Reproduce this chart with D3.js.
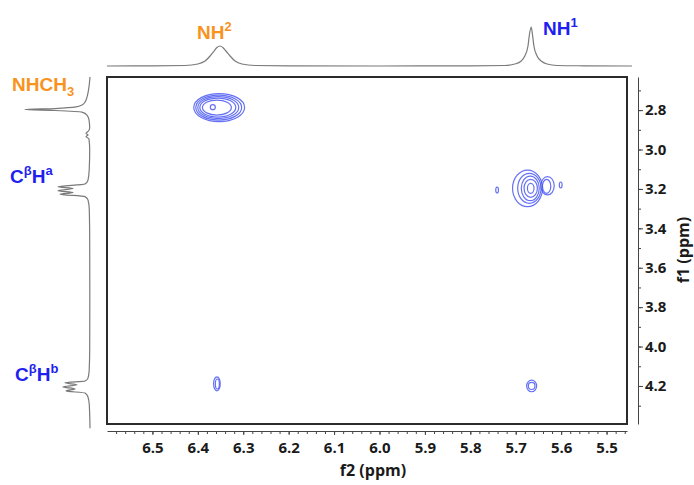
<!DOCTYPE html>
<html>
<head>
  <meta charset="utf-8">
  <script src="https://d3js.org/d3.v7.min.js"></script>
  <style>
    body { margin: 0; background: #fff; }
    .tick text { font-family: "Open Sans", sans-serif; font-weight: 700; font-size: 15px; fill: #1a1a1a; }
    .peak-label { font-family: "Liberation Sans", Arial, sans-serif; font-weight: 700; font-size: 19px; }
  </style>
</head>
<body>
<div id="chart"></div>
<script>
// f2 (horizontal) and f1 (vertical) tick labels, ppm
const f2Labels = [6.5, 6.4, 6.3, 6.2, 6.1, 6.0, 5.9, 5.8, 5.7, 5.6, 5.5];
const f1Labels = [2.8, 3.0, 3.2, 3.4, 3.6, 3.8, 4.0, 4.2];

// 1D projection on top (f2): ppm and height
const topPpm = [6.60, 6.50, 6.428, 6.400, 6.384, 6.373, 6.364, 6.358, 6.351, 6.345, 6.338, 6.329, 6.318, 6.303, 6.274, 6.20, 6.00, 5.80,
                5.724, 5.702, 5.688, 5.680, 5.673, 5.670, 5.666, 5.663, 5.660, 5.653, 5.644, 5.631, 5.609, 5.55, 5.444];
const topInt = [0, 0.2, 0.5, 2, 5, 10, 15, 18.5, 20, 18.5, 15, 10, 5, 2, 0.5, 0.2, 0, 0.2,
                0.5, 2, 5, 10, 20, 31, 39, 31, 20, 10, 5, 2, 0.5, 0.2, 0];

// 1D projection on the left (f1)
const leftPpm = [2.632, 2.698, 2.734, 2.759, 2.774, 2.784, 2.792, 2.797, 2.802, 2.810, 2.825, 2.850, 2.891,
                 2.906, 2.919, 2.926, 2.934, 2.947, 3.003, 3.104, 3.155, 3.175, 3.189, 3.198, 3.209, 3.218, 3.227,
                 3.239, 3.256, 3.307, 3.459, 3.764, 4.018, 4.119, 4.160, 4.175, 4.184, 4.194, 4.205, 4.215, 4.225,
                 4.236, 4.256, 4.297, 4.414];
const leftInt = [0, 1.5, 3, 5, 8, 14, 35, 65, 35, 8, 3, 1, 0.3,
                 1.5, 4, 2, 4, 1, 0.3, 0.8, 2, 5, 32, 17, 32, 17, 30,
                 5, 2, 0.7, 0.3, 0.2, 0.3, 0.8, 2, 5, 25, 13, 27, 15, 24,
                 5, 2, 0.7, 0];

// contour rings of the cross peaks: centre (f2, f1) and half widths, ppm
const ringF2 = [6.353, 6.354, 6.355, 6.356, 6.358, 6.367,
                5.674, 5.670, 5.668, 5.667, 5.667, 5.630, 5.632, 5.741, 5.601,
                6.358, 6.357, 5.665, 5.665];
const ringF1 = [2.787, 2.787, 2.787, 2.787, 2.787, 2.785,
                3.197, 3.197, 3.197, 3.197, 3.197, 3.184, 3.187, 3.206, 3.180,
                4.189, 4.190, 4.200, 4.200];
const ringRx = [0.0560, 0.0505, 0.0451, 0.0396, 0.0319, 0.0055,
                0.0330, 0.0257, 0.0198, 0.0147, 0.0073, 0.0147, 0.0092, 0.0030, 0.0030,
                0.0073, 0.0044, 0.0110, 0.0073];
const ringRy = [0.0711, 0.0635, 0.0558, 0.0482, 0.0381, 0.0127,
                0.0929, 0.0761, 0.0624, 0.0457, 0.0254, 0.0467, 0.0355, 0.0152, 0.0152,
                0.0355, 0.0254, 0.0294, 0.0178];

const orange = "#f7931e", blue = "#1f1ff0";

const width = 694, height = 485;
const svg = d3.select("#chart").append("svg")
  .attr("width", width)
  .attr("height", height);

// scales (f2 runs right to left, f1 top to bottom)
const x = d3.scaleLinear().domain([6.6, 5.455]).range([107, 627]);
const y = d3.scaleLinear().domain([2.632, 4.393]).range([77, 424]);
const topY = d3.scaleLinear().domain([0, 39]).range([66, 27]);
const leftX = d3.scaleLinear().domain([0, 65]).range([90, 25]);

// contours
svg.append("g")
  .selectAll("ellipse")
  .data(d3.range(ringF2.length))
  .join("ellipse")
    .attr("cx", i => x(ringF2[i]))
    .attr("cy", i => y(ringF1[i]))
    .attr("rx", i => Math.abs(x(ringF2[i] - ringRx[i]) - x(ringF2[i])))
    .attr("ry", i => Math.abs(y(ringF1[i] + ringRy[i]) - y(ringF1[i])))
    .attr("fill", "none")
    .attr("stroke", "#4a58f2")
    .attr("stroke-opacity", 0.85)
    .attr("stroke-width", 1.2);

// frame
svg.append("rect")
  .attr("x", 107).attr("y", 77)
  .attr("width", 520).attr("height", 347)
  .attr("fill", "none")
  .attr("stroke", "#2b2b2b")
  .attr("stroke-width", 2);

// 1D traces
svg.append("path")
  .datum(d3.range(topPpm.length))
  .attr("fill", "none")
  .attr("stroke", "#7a7a7a")
  .attr("stroke-width", 1.2)
  .attr("d", d3.line()
    .x(i => x(topPpm[i]))
    .y(i => topY(topInt[i]))
    .curve(d3.curveMonotoneX));

svg.append("path")
  .datum(d3.range(leftPpm.length))
  .attr("fill", "none")
  .attr("stroke", "#7a7a7a")
  .attr("stroke-width", 1.2)
  .attr("d", d3.line()
    .x(i => leftX(leftInt[i]))
    .y(i => y(leftPpm[i]))
    .curve(d3.curveMonotoneY));

// x axis: minor ticks every 0.02, labels every 0.1
const xMinor = d3.range(6.58, 5.455, -0.02).map(v => +v.toFixed(2));
svg.append("g")
  .attr("transform", "translate(0,431)")
  .call(d3.axisBottom(x).tickValues(xMinor).tickFormat("").tickSize(3).tickSizeOuter(0))
  .call(g => g.select(".domain").attr("stroke", "#444"))
  .call(g => g.selectAll(".tick line").attr("stroke", "#444"));
svg.append("g")
  .attr("transform", "translate(0,431)")
  .call(d3.axisBottom(x).tickValues(f2Labels).tickFormat(d3.format(".1f")).tickSize(4).tickPadding(7).tickSizeOuter(0))
  .call(g => g.select(".domain").remove())
  .call(g => g.selectAll(".tick line").attr("stroke", "#444"));

// y axis on the right: minor ticks every 0.1
const yMinor = d3.range(2.7, 4.35, 0.1).map(v => +v.toFixed(1));
svg.append("g")
  .attr("transform", "translate(638,0)")
  .call(d3.axisRight(y).tickValues(yMinor).tickFormat("").tickSize(3).tickSizeOuter(0))
  .call(g => g.select(".domain").attr("stroke", "#444"))
  .call(g => g.selectAll(".tick line").attr("stroke", "#444"));
svg.append("g")
  .attr("transform", "translate(638,0)")
  .call(d3.axisRight(y).tickValues(f1Labels).tickFormat(d3.format(".1f")).tickSize(5).tickPadding(2).tickSizeOuter(0))
  .call(g => g.select(".domain").remove())
  .call(g => g.selectAll(".tick line").attr("stroke", "#444"));

// axis titles
svg.append("text")
  .attr("x", 373).attr("y", 476)
  .attr("text-anchor", "middle")
  .style("font-family", "Open Sans, sans-serif")
  .style("font-weight", 700)
  .style("font-size", "16px")
  .style("fill", "#1a1a1a")
  .text("f2 (ppm)");

svg.append("text")
  .attr("transform", "translate(689,250) rotate(-90)")
  .attr("text-anchor", "middle")
  .style("font-family", "Open Sans, sans-serif")
  .style("font-weight", 700)
  .style("font-size", "16px")
  .style("fill", "#1a1a1a")
  .text("f1 (ppm)");

// peak assignment labels
function label(xPos, yPos, color, parts) {
  const t = svg.append("text")
    .attr("class", "peak-label")
    .attr("x", xPos).attr("y", yPos)
    .style("fill", color);
  parts.forEach(p => {
    const s = t.append("tspan").text(p[0]);
    if (p[1] === "sup") s.style("font-size", "13px").attr("dy", -8);
    if (p[1] === "sub") s.style("font-size", "13px").attr("dy", 5);
    if (p[1] === "back") s.attr("dy", 8);
  });
}
label(197, 39, orange, [["NH"], ["2", "sup"]]);
label(543, 35, blue, [["NH"], ["1", "sup"]]);
label(12, 91, orange, [["NHCH"], ["3", "sub"]]);
label(10, 183, blue, [["C"], ["β", "sup"], ["H", "back"], ["a", "sup"]]);
label(15, 381, blue, [["C"], ["β", "sup"], ["H", "back"], ["b", "sup"]]);
</script>
</body>
</html>
